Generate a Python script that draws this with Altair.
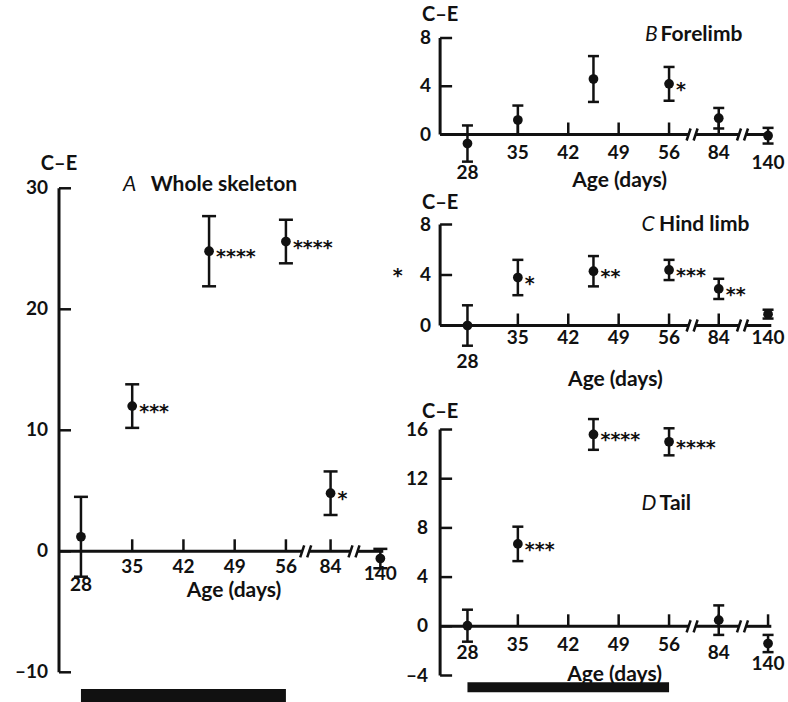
import altair as alt
import pandas as pd

# ---------------- data ----------------
ages = [28, 35, 45.5, 56, 84, 140]

whole_mean = [1.2, 12.0, 24.8, 25.6, 4.8, -0.6]
whole_sem = [3.3, 1.8, 2.9, 1.8, 1.8, 0.8]
whole_sig = ["", "***", "****", "****", "*", ""]

fore_mean = [-0.75, 1.2, 4.6, 4.2, 1.35, -0.1]
fore_sem = [1.5, 1.2, 1.9, 1.4, 0.85, 0.65]
fore_sig = ["", "", "", "*", "", ""]

hind_mean = [0.0, 3.8, 4.3, 4.4, 2.9, 0.9]
hind_sem = [1.6, 1.4, 1.2, 0.8, 0.8, 0.35]
hind_sig = ["", "*", "**", "***", "**", ""]

tail_mean = [0.05, 6.7, 15.6, 15.0, 0.5, -1.4]
tail_sem = [1.3, 1.4, 1.25, 1.1, 1.2, 0.7]
tail_sig = ["", "***", "****", "****", "", ""]

x_label_days = [28, 35, 42, 49, 56, 84, 140]
x_tick_days = [35, 42, 49, 56, 84]
x_tick_days_tail = [35, 42, 49, 56, 84, 140]
treatment_days = [28, 56]

y_ticks_whole = [-10, 0, 10, 20, 30]
y_ticks_limb = [0, 4, 8]
y_ticks_tail = [-4, 0, 4, 8, 12, 16]

# ---------------- layout / style ----------------
FONT = "Lato"
STAR_FONT = "DejaVu Sans"
NUM_SIZE = 19
WORD_SIZE = 21
INK = "#111111"

LEFT_X = dict(xdom=[25.0, 70.0], width=329.4,
              breakpos={84: 62.1, 140: 68.9}, breaks=[58.7, 65.3], xend=69.3)
RIGHT_X = dict(xdom=[24.2, 71.0], width=336.96,
               breakpos={84: 62.9, 140: 69.75}, breaks=[59.2, 66.2], xend=70.2)

PANELS = {
    "A": dict(LEFT_X, letter="A", name="Whole skeleton", mean=whole_mean, sem=whole_sem,
              sig=whole_sig, yt=y_ticks_whole, ydom=[-10, 42.42], height=634.3,
              xticks=x_tick_days, lab_dy=16, lab_dy_special={28: 34, 140: 23},
              ylab_dx=-11, ce_dy=-24, letter_x=64, name_x=91.7, title_y=152.7,
              age_x=175, age_y=553, cap=7, bar=[651, 666], stray=None),
    "B": dict(RIGHT_X, letter="B", name="Forelimb", mean=fore_mean, sem=fore_sem,
              sig=fore_sig, yt=y_ticks_limb, ydom=[0, 8], height=96.5,
              xticks=x_tick_days, lab_dy=18, lab_dy_special={28: 38, 140: 28},
              ylab_dx=-9, ce_dy=-23, letter_x=205, name_x=220.5, title_y=2.7,
              age_x=179.5, age_y=142.7, cap=5.5, bar=None, stray=None),
    "C": dict(RIGHT_X, letter="C", name="Hind limb", mean=hind_mean, sem=hind_sem,
              sig=hind_sig, yt=y_ticks_limb, ydom=[0, 8], height=101,
              xticks=x_tick_days, lab_dy=12, lab_dy_special={28: 36},
              ylab_dx=-9, ce_dy=-22, letter_x=201.5, name_x=219, title_y=6.7,
              age_x=175.3, age_y=155, cap=5.5, bar=None, stray=(-42.5, 45)),
    "D": dict(RIGHT_X, letter="D", name="Tail", mean=tail_mean, sem=tail_sem,
              sig=tail_sig, yt=y_ticks_tail, ydom=[-4, 17.18], height=260.5,
              xticks=x_tick_days_tail, lab_dy=18.4, lab_dy_special={28: 27, 84: 27, 140: 38},
              ylab_dx=-12, ce_dy=-18, letter_x=201.5, name_x=219.5, title_y=94.5,
              age_x=174.5, age_y=259.5, cap=5.5, bar=[267.2, 277.2], stray=None),
}


def fmt(v):
    return ("\u2013" + str(abs(v))) if v < 0 else str(v)


def make_panel(p):
    xdom, ydom = p["xdom"], p["ydom"]
    ppd = p["width"] / (xdom[1] - xdom[0])
    ppu = p["height"] / (ydom[1] - ydom[0])
    xs = alt.Scale(domain=xdom, nice=False, zero=False)
    ys = alt.Scale(domain=ydom, nice=False, zero=False)

    def X(f):
        return alt.X(f"{f}:Q", scale=xs, axis=None)

    def Y(f):
        return alt.Y(f"{f}:Q", scale=ys, axis=None)

    def axpos(d):
        return d if d <= 56 else p["breakpos"][d]

    xmin = xdom[0]
    layers = []

    # y axis line and inward ticks
    yt = p["yt"]
    layers.append(alt.Chart(pd.DataFrame({"x": [xmin], "y": [min(yt)], "y2": [max(yt)]}))
                  .mark_rule(strokeWidth=3, color=INK)
                  .encode(x=X("x"), y=Y("y"), y2=alt.Y2("y2")))
    layers.append(alt.Chart(pd.DataFrame({"y": yt, "x": [xmin] * len(yt),
                                          "x2": [xmin + 12 / ppd] * len(yt)}))
                  .mark_rule(strokeWidth=2.5, color=INK)
                  .encode(x=X("x"), x2=alt.X2("x2"), y=Y("y")))
    # y labels
    layers.append(alt.Chart(pd.DataFrame({"x": [xmin] * len(yt), "y": yt,
                                          "t": [fmt(v) for v in yt]}))
                  .mark_text(align="right", baseline="middle", dx=p["ylab_dx"],
                             font=FONT, fontSize=NUM_SIZE, fontWeight="bold", color=INK)
                  .encode(x=X("x"), y=Y("y"), text="t:N"))
    # C-E label over the y axis
    layers.append(alt.Chart(pd.DataFrame({"x": [xmin], "y": [max(yt)], "t": ["C\u2013E"]}))
                  .mark_text(align="center", baseline="middle", dy=p["ce_dy"],
                             font=FONT, fontSize=20, fontWeight="bold", color=INK)
                  .encode(x=X("x"), y=Y("y"), text="t:N"))

    # broken x axis
    g = 3.5 / ppd
    b1, b2 = p["breaks"]
    layers.append(alt.Chart(pd.DataFrame({"x": [xmin, b1 + g, b2 + g],
                                          "x2": [b1 - g, b2 - g, p["xend"]],
                                          "y": [0, 0, 0]}))
                  .mark_rule(strokeWidth=3, color=INK)
                  .encode(x=X("x"), x2=alt.X2("x2"), y=Y("y")))
    sl = []
    for c in (b1, b2):
        for s in (-g, g):
            sl.append({"x": c + s - 2 / ppd, "x2": c + s + 2 / ppd,
                       "y": -6 / ppu, "y2": 6 / ppu})
    layers.append(alt.Chart(pd.DataFrame(sl)).mark_rule(strokeWidth=2.5, color=INK)
                  .encode(x=X("x"), x2=alt.X2("x2"), y=Y("y"), y2=alt.Y2("y2")))
    xt = p["xticks"]
    layers.append(alt.Chart(pd.DataFrame({"x": [axpos(d) for d in xt], "y": [0] * len(xt),
                                          "y2": [12 / ppu] * len(xt)}))
                  .mark_rule(strokeWidth=2.5, color=INK)
                  .encode(x=X("x"), y=Y("y"), y2=alt.Y2("y2")))
    lab = pd.DataFrame({"x": [axpos(d) for d in x_label_days],
                        "y": [-p["lab_dy_special"].get(d, p["lab_dy"]) / ppu for d in x_label_days],
                        "t": [str(d) for d in x_label_days]})
    layers.append(alt.Chart(lab).mark_text(align="center", baseline="middle", font=FONT,
                                           fontSize=NUM_SIZE, fontWeight="bold", color=INK)
                  .encode(x=X("x"), y=Y("y"), text="t:N"))
    layers.append(alt.Chart(pd.DataFrame({"t": ["Age (days)"]}))
                  .mark_text(align="center", baseline="middle", font=FONT,
                             fontSize=WORD_SIZE, fontWeight="bold", color=INK)
                  .encode(x=alt.value(p["age_x"]), y=alt.value(p["age_y"]), text="t:N"))

    # panel title
    layers.append(alt.Chart(pd.DataFrame({"t": [p["letter"]]}))
                  .mark_text(align="left", baseline="alphabetic", font=FONT, fontStyle="italic",
                             fontSize=WORD_SIZE, fontWeight="normal", color=INK)
                  .encode(x=alt.value(p["letter_x"]), y=alt.value(p["title_y"]), text="t:N"))
    layers.append(alt.Chart(pd.DataFrame({"t": [p["name"]]}))
                  .mark_text(align="left", baseline="alphabetic", font=FONT,
                             fontSize=WORD_SIZE, fontWeight="bold", color=INK)
                  .encode(x=alt.value(p["name_x"]), y=alt.value(p["title_y"]), text="t:N"))

    # data: error bars, caps, points, significance stars
    pts = pd.DataFrame({"x": [axpos(a) for a in ages], "m": p["mean"], "s": p["sem"],
                        "sig": p["sig"]})
    pts["lo"] = pts["m"] - pts["s"]
    pts["hi"] = pts["m"] + pts["s"]
    pts["cl"] = pts["x"] - p["cap"] / ppd
    pts["cr"] = pts["x"] + p["cap"] / ppd
    base = alt.Chart(pts)
    layers.append(base.mark_rule(strokeWidth=2.5, color=INK)
                  .encode(x=X("x"), y=Y("lo"), y2=alt.Y2("hi")))
    layers.append(base.mark_rule(strokeWidth=2.5, color=INK)
                  .encode(x=X("cl"), x2=alt.X2("cr"), y=Y("lo")))
    layers.append(base.mark_rule(strokeWidth=2.5, color=INK)
                  .encode(x=X("cl"), x2=alt.X2("cr"), y=Y("hi")))
    layers.append(base.mark_circle(size=95, opacity=1, color=INK)
                  .encode(x=X("x"), y=Y("m")))
    layers.append(base.mark_text(align="left", baseline="middle", dx=7, dy=6, font=STAR_FONT,
                                 fontSize=19, fontWeight="bold", color=INK)
                  .encode(x=X("x"), y=Y("m"), text="sig:N"))

    if p["bar"] is not None:
        layers.append(alt.Chart(pd.DataFrame({"x": [treatment_days[0]], "x2": [treatment_days[1]]}))
                      .mark_rect(color=INK)
                      .encode(x=X("x"), x2=alt.X2("x2"), y=alt.value(p["bar"][0]),
                              y2=alt.value(p["bar"][1])))
    if p["stray"] is not None:
        layers.append(alt.Chart(pd.DataFrame({"t": ["*"]}))
                      .mark_text(align="center", baseline="middle", font=STAR_FONT, dy=6,
                                 fontSize=19, fontWeight="bold", color=INK)
                      .encode(x=alt.value(p["stray"][0]), y=alt.value(p["stray"][1]), text="t:N"))

    return alt.layer(*layers).properties(width=p["width"], height=p["height"])


panel_a = make_panel(PANELS["A"])
right = alt.vconcat(make_panel(PANELS["B"]), make_panel(PANELS["C"]), make_panel(PANELS["D"]),
                    spacing=89.5, bounds="flush")
chart = (alt.hconcat(panel_a, right, spacing=51.1, bounds="flush")
         .properties(padding={"left": 14, "top": 5, "right": 2, "bottom": 0}, background="white")
         .configure_view(stroke=None))

chart.save("out.html", embed_options={"renderer": "svg", "actions": False})
